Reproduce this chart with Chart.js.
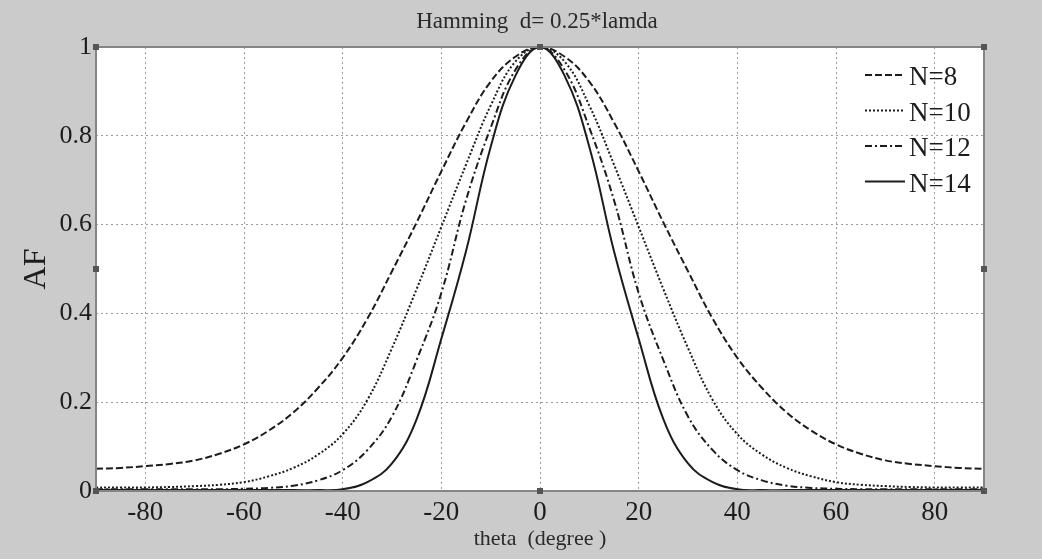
<!DOCTYPE html>
<html lang="en">
<head>
  <meta charset="UTF-8">
  <title>Hamming d= 0.25*lamda</title>
  <script src="https://cdn.jsdelivr.net/npm/chart.js"></script>
  <style>
    html,body{width:1042px;height:559px;margin:0;padding:0;overflow:hidden;background:#cbcbcb}
    #af{display:block}
  </style>
</head>
<body>
<canvas id="af" width="1042" height="559"></canvas>
<script>
/******** data ********/
const theta=[-90,-85,-80,-75,-70,-65,-60,-55,-50,-45,-40,-35,-30,-25,-20,-15,-10,-5,0,5,10,15,20,25,30,35,40,45,50,55,60,65,70,75,80,85,90];
const af8 =[0.050,0.052,0.056,0.061,0.069,0.084,0.105,0.136,0.177,0.232,0.300,0.388,0.495,0.605,0.720,0.830,0.922,0.978,1,
            0.978,0.922,0.830,0.720,0.605,0.495,0.388,0.300,0.232,0.177,0.136,0.105,0.084,0.069,0.061,0.056,0.052,0.050];
const af10=[0.008,0.008,0.008,0.009,0.011,0.014,0.020,0.033,0.052,0.082,0.128,0.205,0.322,0.455,0.595,0.735,0.868,0.967,1,
            0.967,0.868,0.735,0.595,0.455,0.322,0.205,0.128,0.082,0.052,0.033,0.020,0.014,0.011,0.009,0.008,0.008,0.008];
const af12=[0.004,0.004,0.004,0.004,0.004,0.004,0.005,0.007,0.012,0.024,0.047,0.092,0.168,0.295,0.446,0.655,0.818,0.948,1,
            0.948,0.818,0.655,0.446,0.295,0.168,0.092,0.047,0.024,0.012,0.007,0.005,0.004,0.004,0.004,0.004,0.004,0.004];
const af14=[0.002,0.002,0.002,0.002,0.002,0.002,0.002,0.002,0.002,0.002,0.004,0.020,0.062,0.162,0.343,0.540,0.775,0.935,1,
            0.935,0.775,0.540,0.343,0.162,0.062,0.020,0.004,0.002,0.002,0.002,0.002,0.002,0.002,0.002,0.002,0.002,0.002];
const seriesNames=['N=8','N=10','N=12','N=14'];
const xTicks=[-80,-60,-40,-20,0,20,40,60,80];
const yTicks=[0,0.2,0.4,0.6,0.8,1];

const serif="'Liberation Serif','Times New Roman',serif";
const ink='#1c1c1c';
const dashes=[[7,3],[2,2],[7,3,2,3],[]];

const pts=arr=>arr.map((v,i)=>({x:theta[i],y:v}));
const datasets=[af8,af10,af12,af14].map((arr,k)=>({
  label:seriesNames[k],
  data:pts(arr),
  borderColor:ink,
  borderWidth:2,
  borderDash:dashes[k],
  pointRadius:0,
  fill:false,
  tension:0.4
}));

// background, box, title, legend (matlab look)
const matlabLook={
  id:'matlabLook',
  beforeDraw(chart){
    const {ctx,chartArea:a}=chart;
    ctx.save();
    ctx.fillStyle='#cbcbcb';ctx.fillRect(0,0,chart.width,chart.height);
    ctx.fillStyle='#ffffff';ctx.fillRect(a.left,a.top,a.right-a.left,a.bottom-a.top);
    ctx.restore();
  },
  afterDraw(chart){
    const {ctx,chartArea:a}=chart;
    ctx.save();
    // box
    ctx.strokeStyle='#858585';ctx.lineWidth=2;ctx.setLineDash([]);
    ctx.strokeRect(a.left,a.top,a.right-a.left,a.bottom-a.top);
    // edit handles
    ctx.fillStyle='#555';
    const mx=(a.left+a.right)/2,my=(a.top+a.bottom)/2;
    [[a.left,a.top],[mx,a.top],[a.right,a.top],[a.left,my],[a.right,my],[a.left,a.bottom],[mx,a.bottom],[a.right,a.bottom]]
      .forEach(([x,y])=>ctx.fillRect(x-3,y-3,6,6));
    // title
    ctx.fillStyle='#2a2a2a';ctx.font='23px '+serif;ctx.textAlign='center';ctx.textBaseline='alphabetic';
    ctx.fillText('Hamming  d= 0.25*lamda',mx-3,28);
    // legend
    ctx.font='27px '+serif;ctx.textAlign='left';
    chart.data.datasets.forEach((ds,i)=>{
      const base=85+i*35.5;
      ctx.strokeStyle=ds.borderColor;ctx.lineWidth=2;ctx.setLineDash(ds.borderDash);
      ctx.beginPath();ctx.moveTo(865,base-10);ctx.lineTo(905,base-10);ctx.stroke();
      ctx.fillStyle=ink;ctx.fillText(ds.label,909,base);
    });
    ctx.restore();
  }
};

new Chart(document.getElementById('af'),{
  type:'line',
  data:{datasets},
  options:{
    responsive:false,
    animation:false,
    layout:{padding:{top:47,right:58,left:0,bottom:0}},
    plugins:{legend:{display:false},title:{display:false},tooltip:{enabled:false}},
    scales:{
      x:{
        type:'linear',min:-90,max:90,
        afterFit:s=>{s.height=68;},
        afterBuildTicks:s=>{s.ticks=xTicks.map(v=>({value:v}));},
        grid:{color:'#9c9c9c',lineWidth:1,drawTicks:false},
        border:{display:false,dash:[2,3]},
        ticks:{color:ink,font:{family:serif,size:27},padding:6},
        title:{display:true,text:'theta  (degree )',color:'#2a2a2a',font:{family:serif,size:22},padding:{top:0,bottom:7}}
      },
      y:{
        min:0,max:1,
        afterFit:s=>{s.width=96;},
        afterBuildTicks:s=>{s.ticks=yTicks.map(v=>({value:v}));},
        grid:{color:'#9c9c9c',lineWidth:1,drawTicks:false},
        border:{display:false,dash:[2,3]},
        ticks:{color:ink,font:{family:serif,size:26},padding:4,callback:v=>String(+v.toFixed(1))},
        title:{display:true,text:'AF',color:ink,font:{family:serif,size:32},padding:{top:17,bottom:0}}
      }
    }
  },
  plugins:[matlabLook]
});
</script>
</body>
</html>
